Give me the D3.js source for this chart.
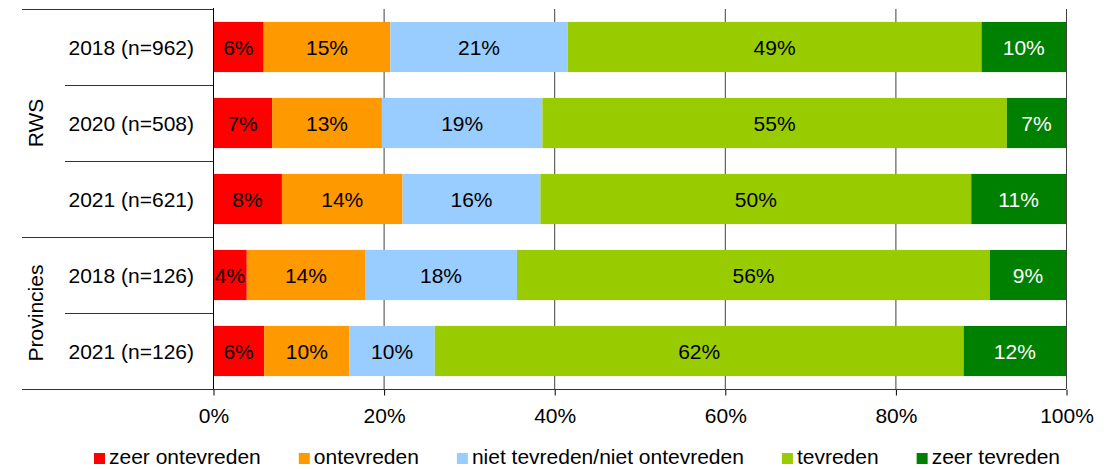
<!DOCTYPE html>
<html>
<head>
<meta charset="utf-8">
<script src="https://cdn.jsdelivr.net/npm/d3@7"></script>
<style>
  body { margin: 0; background: #fff; }
  svg { display: block; font-family: "Liberation Sans", Arial, sans-serif; }
</style>
</head>
<body>
<div id="target"></div>
<script>
// data
const groups = ["RWS", "Provincies"]
const rowGroup = ["RWS", "RWS", "RWS", "Provincies", "Provincies"]
const rowLabels = ["2018 (n=962)", "2020 (n=508)", "2021 (n=621)", "2018 (n=126)", "2021 (n=126)"]
const seriesNames = ["zeer ontevreden", "ontevreden", "niet tevreden/niet ontevreden", "tevreden", "zeer tevreden"]
const zeerOntevreden = [6, 7, 8, 4, 6]
const ontevreden = [15, 13, 14, 14, 10]
const neutraal = [21, 19, 16, 18, 10]
const tevreden = [49, 55, 50, 56, 62]
const zeerTevreden = [10, 7, 11, 9, 12]
const xTicks = [0, 0.2, 0.4, 0.6, 0.8, 1]

const colors = ["#ff0000", "#ff9900", "#99ccff", "#99cc00", "#008000"]
const labelColors = ["#000", "#000", "#000", "#000", "#fff"]

const width = 1119, height = 469
const plot = { left: 213, right: 1066, top: 9, bottom: 389 }
const fontSize = 21

const seriesValues = [zeerOntevreden, ontevreden, neutraal, tevreden, zeerTevreden]
const rows = rowLabels.map((label, i) => {
    const row = { key: i, label, group: rowGroup[i] }
    seriesNames.forEach((s, j) => row[s] = seriesValues[j][i])
    return row
})

const svg = d3.select("#target").append("svg")
    .attr("width", width)
    .attr("height", height)

const x = d3.scaleLinear()
    .domain([0, 1])
    .range([plot.left, plot.right])

const y = d3.scaleBand()
    .domain(rows.map(d => d.key))
    .range([plot.top, plot.bottom])
    .paddingInner(0.34)
    .paddingOuter(0.17)

const stack = d3.stack()
    .keys(seriesNames)
    .offset(d3.stackOffsetExpand)
const stacked = stack(rows)

//Gridlines
svg.append("g")
    .selectAll("line")
    .data(xTicks.filter(t => t > 0))
    .enter()
    .append("line")
    .attr("x1", d => x(d) + 0.5)
    .attr("x2", d => x(d) + 0.5)
    .attr("y1", plot.top)
    .attr("y2", plot.bottom)
    .attr("stroke", "#404040")
    .attr("stroke-width", 1)

//Bars
const layer = svg.append("g")
    .selectAll("g")
    .data(stacked)
    .enter()
    .append("g")
    .attr("fill", (d, i) => colors[i])

layer.selectAll("rect")
    .data(d => d)
    .enter()
    .append("rect")
    .attr("x", d => x(d[0]))
    .attr("width", d => x(d[1]) - x(d[0]))
    .attr("y", d => y(d.data.key))
    .attr("height", y.bandwidth())

//Bar labels
svg.append("g")
    .selectAll("g")
    .data(stacked)
    .enter()
    .append("g")
    .attr("fill", (d, i) => labelColors[i])
    .each(function(series) {
        d3.select(this).selectAll("text")
            .data(series)
            .enter()
            .append("text")
            .attr("x", d => (x(d[0]) + x(d[1])) / 2)
            .attr("y", d => y(d.data.key) + y.bandwidth() / 2)
            .attr("dy", "0.36em")
            .attr("text-anchor", "middle")
            .attr("font-size", fontSize)
            .text(d => d.data[series.key] + "%")
    })

//Bottom axis
const xAxis = d3.axisBottom(x)
    .tickValues(xTicks)
    .tickFormat(d3.format(".0%"))
    .tickSize(6)
    .tickPadding(13)

const axisG = svg.append("g")
    .attr("transform", `translate(0.5,${plot.bottom + 0.5})`)
    .call(xAxis)
axisG.select(".domain").remove()
axisG.selectAll(".tick line").attr("stroke", "#000")
axisG.selectAll(".tick text")
    .attr("font-size", fontSize)
    .attr("font-family", "Liberation Sans, Arial, sans-serif")
    .attr("fill", "#000")

//Vertical axis line
svg.append("line")
    .attr("x1", plot.left + 0.5)
    .attr("x2", plot.left + 0.5)
    .attr("y1", plot.top - 1)
    .attr("y2", plot.bottom)
    .attr("stroke", "#000")

//Row separators
const step = y.step()
const boundaries = rows.map(d => y(d.key) - (step - y.bandwidth()) / 2)
boundaries.push(plot.bottom)
svg.append("g")
    .selectAll("line")
    .data(boundaries)
    .enter()
    .append("line")
    .attr("x1", (d, i) => (i === 0 || i === boundaries.length - 1 || rowGroup[i] !== rowGroup[i - 1]) ? 22 : 65)
    .attr("x2", (d, i) => i === boundaries.length - 1 ? plot.right : plot.left)
    .attr("y1", d => Math.round(d) + 0.5)
    .attr("y2", d => Math.round(d) + 0.5)
    .attr("stroke", "#333")

//Row labels
svg.append("g")
    .selectAll("text")
    .data(rows)
    .enter()
    .append("text")
    .attr("x", 194)
    .attr("y", d => y(d.key) + y.bandwidth() / 2)
    .attr("dy", "0.36em")
    .attr("text-anchor", "end")
    .attr("font-size", fontSize)
    .text(d => d.label)

//Group labels
groups.forEach(g => {
    const members = rows.filter(r => r.group === g)
    const top = y(members[0].key) - (step - y.bandwidth()) / 2
    const bottom = y(members[members.length - 1].key) + y.bandwidth() + (step - y.bandwidth()) / 2
    svg.append("text")
        .attr("transform", `translate(43,${(top + bottom) / 2}) rotate(-90)`)
        .attr("text-anchor", "middle")
        .attr("font-size", fontSize)
        .text(g)
})

//Legend
const legend = svg.append("g")
let lx = 94
seriesNames.forEach((name, i) => {
    legend.append("rect")
        .attr("x", lx)
        .attr("y", 453)
        .attr("width", 11)
        .attr("height", 11)
        .attr("fill", colors[i])
    const t = legend.append("text")
        .attr("x", lx + 15)
        .attr("y", 464)
        .attr("font-size", fontSize)
        .text(name)
    lx += 15 + t.node().getComputedTextLength() + 38
})
</script>
</body>
</html>
